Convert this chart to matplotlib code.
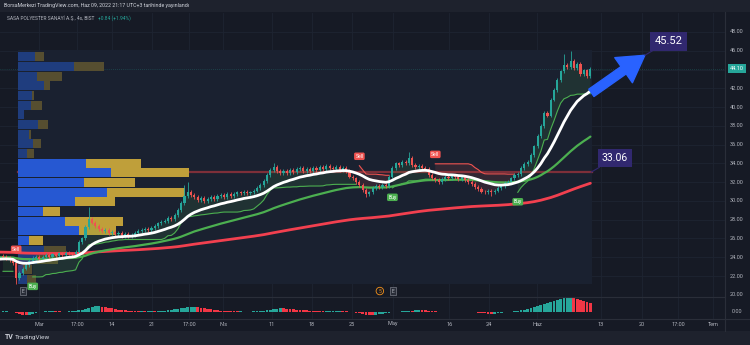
import numpy as np
import matplotlib
matplotlib.use("Agg")
import matplotlib.pyplot as plt
import matplotlib.transforms as mtransforms
from matplotlib.patches import Rectangle

plt.rcParams['font.family'] = ['Roboto', 'DejaVu Sans']

# ---------------- data: SASA 4h bars ----------------
closes = [
    24.0, 23.9, 23.7, 23.4, 21.8, 22.3, 22.8, 23.2, 23.6, 23.9,
    24.0, 23.8, 24.0, 24.2, 24.0, 24.3, 24.1, 24.4, 24.2, 24.5,
    24.4, 24.3, 24.6, 25.6, 26.0, 27.2, 28.1, 27.7, 27.3, 27.0,
    26.8, 26.9, 26.6, 26.7, 26.5, 26.6, 26.3, 26.5, 26.3, 26.4,
    26.6, 26.8, 26.9, 27.0, 26.9, 27.1, 27.3, 27.6, 27.8, 27.9,
    28.2, 28.1, 28.5, 29.0, 29.8, 30.5, 31.0, 30.6, 30.4, 30.1,
    30.3, 30.0, 30.2, 30.4, 30.2, 30.5, 30.6, 30.4, 30.7, 30.5,
    30.7, 30.9, 30.8, 31.0, 30.8, 30.9, 31.1, 31.4, 31.7, 32.1,
    32.8, 33.3, 33.6, 33.2, 33.0, 33.2, 33.0, 33.3, 33.1, 33.4,
    33.5, 33.2, 33.4, 33.2, 33.5, 33.3, 33.6, 33.4, 33.7, 33.5,
    33.4, 33.6, 33.3, 33.5, 33.2, 32.6, 32.4, 32.0, 31.7, 31.2,
    30.7, 30.9, 31.4, 31.6, 31.5, 31.7, 31.6, 32.6, 33.5, 34.0,
    33.8, 34.2, 34.0, 34.6, 33.8, 33.6, 33.7, 33.5, 33.4, 32.8,
    32.4, 32.2, 32.0, 32.3, 32.6, 32.4, 32.7, 32.5, 32.3, 32.5,
    32.2, 32.0, 31.8, 31.5, 31.3, 31.0, 30.9, 31.1, 30.9, 31.1,
    31.4, 31.6, 31.9, 32.0, 32.4, 32.8, 32.9, 33.5, 33.9, 34.2,
    34.9, 35.8, 36.9, 38.0, 39.4, 39.1, 40.8, 41.8, 42.9, 43.8,
    44.5, 44.3, 44.9, 44.2, 44.6, 43.5, 43.9, 43.26, 44.10,
]
first_open = 24.1
wick = 0.2
spike_highs = {26: 29.35, 55: 31.7, 56: 32.0, 82: 34.0, 123: 35.2, 170: 45.7, 172: 46.0}
spike_lows = {4: 21.2, 110: 30.4, 148: 30.5}

# lower pane oscillator
osc = [
    0.6, 0.8, 0.5, -0.4, -1.2, -2.0, -2.8, -3.5, -3.0, -2.2,
    -1.3, -0.5, 0.2, 0.6, 0.9, 1.0, 0.8, 0.6, 0.5, 0.4,
    0.6, 0.9, 1.3, 1.8, 2.4, 3.2, 4.3, 5.4, 6.3, 6.8,
    6.1, 5.3, 4.6, 3.9, 3.3, 2.7, 2.2, 1.8, 1.4, 1.1,
    0.9, 0.7, 0.8, 0.6, 0.7, 0.8, 0.6, 0.9, 1.2, 1.5,
    1.9, 2.3, 2.8, 3.4, 4.1, 4.7, 5.2, 5.5, 5.6, 5.2,
    4.7, 4.1, 3.5, 2.9, 2.4, 1.9, 1.5, 1.2, 1.0, 0.8,
    0.7, 0.6, 0.7, 0.5, 0.4, 0.5, 0.6, 0.8, 1.0, 1.4,
    1.9, 2.5, 3.1, 3.6, 4.0, 3.9, 3.6, 3.3, 3.0, 2.7,
    2.4, 2.1, 1.8, 1.5, 1.2, 1.0, 0.8, 0.6, 0.7, 0.8,
    0.9, 1.0, 1.1, 1.0, 0.8, 0.4, -0.2, -0.9, -1.6, -2.3,
    -2.9, -3.3, -3.5, -3.1, -2.5, -1.9, -1.3, -0.8, -0.3, 0.1,
    0.4, 0.8, 1.1, 1.5, 1.4, 1.8, 2.2, 2.0, 1.7, 1.4,
    1.1, 0.8, 0.5, 0.3, 0.2, 0.3, 0.4, 0.3, 0.4, 0.5,
    0.4, 0.2, 0.0, -0.3, -0.7, -1.1, -1.5, -1.8, -2.0, -1.7,
    -1.2, -0.7, -0.2, 0.2, 0.5, 0.9, 1.4, 2.0, 2.7, 3.5,
    4.3, 5.2, 6.2, 7.3, 8.5, 9.7, 11.0, 12.3, 13.6, 14.7,
    15.6, 16.2, 16.4, 15.5, 14.2, 13.0, 11.8, 10.6, 9.6,
]

# volume profile, rows from the top price bin down
profile_up = [17, 56, 19, 26, 14, 13, 6, 20, 11, 15, 9, 68, 93, 66, 89, 57, 25, 47, 61, 11, 26, 19, 5, 9]
profile_down = [9, 30, 25, 6, 2, 11, 0, 10, 2, 8, 7, 55, 78, 51, 78, 40, 17, 58, 37, 14, 22, 21, 9, 9]
profile_high, profile_low = 45.87, 21.15
value_area_rows = (11, 19)
poc_price = 33.06
target_price = 45.52
change_text = "+0.84 (+1.94%)"

ema_seed = {18: 23.8, 60: 24.0, 200: 24.55}
ce_length, ce_mult = 12, 3.0

time_labels = ['Mar', '17:00', '14', '21', '17:00', 'Nis', '11', '18', '25', 'May',
               '16', '24', 'Haz', '13', '20', '17:00', 'Tem']
time_pos = [10.9, 22.4, 33.0, 45.2, 56.4, 66.7, 81.5, 93.6, 105.8, 118.2,
            135.2, 147.3, 161.8, 181.2, 193.6, 204.5, 215.2]
price_ticks = [22, 24, 26, 28, 30, 32, 34, 36, 38, 40, 42, 46, 48]

# ---------------- derived series ----------------
c = np.array(closes, dtype=float)
n = len(c)
idx = np.arange(n)
o = np.concatenate([[first_open], c[:-1]])
h = np.maximum(o, c) + wick
l = np.minimum(o, c) - wick
for k, v in spike_highs.items():
    h[k] = v
for k, v in spike_lows.items():
    l[k] = v


def ema(vals, span, seed):
    a = 2.0 / (span + 1)
    out, prev = [], seed
    for v in vals:
        prev = prev + a * (v - prev)
        out.append(prev)
    return np.array([seed] + out)


ema_fast = ema(c, 18, ema_seed[18])
ema_mid = ema(c, 60, ema_seed[60])
ema_slow = ema(c, 200, ema_seed[200])
ema_x = np.arange(-1, n)

# Chandelier exit
pc = np.concatenate([[o[0]], c[:-1]])
tr = np.maximum(h - l, np.maximum(abs(h - pc), abs(l - pc)))
atr = np.zeros(n)
atr[0] = tr[0]
for i in range(1, n):
    atr[i] = atr[i - 1] + (tr[i] - atr[i - 1]) / ce_length
long_stop = np.zeros(n)
short_stop = np.zeros(n)
direction = np.zeros(n, dtype=int)
d = 1
for i in range(n):
    lo = max(0, i - ce_length + 1)
    ls = c[lo:i + 1].max() - ce_mult * atr[i]
    ss = c[lo:i + 1].min() + ce_mult * atr[i]
    if i > 0:
        if c[i - 1] > long_stop[i - 1]:
            ls = max(ls, long_stop[i - 1])
        if c[i - 1] < short_stop[i - 1]:
            ss = min(ss, short_stop[i - 1])
        if c[i] > short_stop[i - 1]:
            d = 1
        elif c[i] < long_stop[i - 1]:
            d = -1
    long_stop[i], short_stop[i], direction[i] = ls, ss, d
buy_idx = [i for i in range(1, n) if direction[i] == 1 and direction[i - 1] == -1]
sell_idx = [i for i in range(1, n) if direction[i] == -1 and direction[i - 1] == 1]
mid = (o + h + l + c) / 4

# ---------------- figure ----------------
BG = '#161a25'
PANEL = '#1e222d'
TEXT = '#b2b5be'
GRID = '#1e2431'
UP = '#26a69a'
DN = '#ef5350'

fig = plt.figure(figsize=(7.5, 3.45), dpi=100, facecolor=BG)
W, H = 750.0, 345.0
ax = fig.add_axes([0, 1 - 297 / H, 725 / W, 284 / H])
axs = fig.add_axes([0, 1 - 319 / H, 725 / W, 22 / H], sharex=ax)
for a in (ax, axs):
    a.set_facecolor(BG)
    for s in a.spines.values():
        s.set_visible(False)
    a.tick_params(left=False, right=False, labelleft=False, bottom=False, labelbottom=False)

ax.set_xlim(-0.909, 218.79)
ax.set_ylim(19.764, 50.024)
axs.set_ylim(-7.78, 16.67)

# header and footer bands
fig.patches.append(Rectangle((0, 1 - 12 / H), 1, 12 / H, transform=fig.transFigure,
                             facecolor=PANEL, edgecolor='none', zorder=-5))
fig.patches.append(Rectangle((0, 0), 1, 14 / H, transform=fig.transFigure,
                             facecolor=PANEL, edgecolor='none', zorder=-5))
fig.text(4 / W, 1 - 6 / H, "BorsaMerkezi TradingView.com, Haz 09, 2022 21:17 UTC+3 tarihinde yayınlandı",
         color='#d1d4dc', fontsize=3.8, va='center', ha='left')
t1 = fig.text(7 / W, 1 - 18 / H, "SASA POLYESTER SANAYİ A.Ş., 4s, BIST", color=TEXT,
              fontsize=3.5, va='center', ha='left')
fig.canvas.draw()
ext = t1.get_window_extent()
fig.text((ext.x1 + 4) / W, 1 - 18 / H, change_text, color=UP, fontsize=3.5, va='center', ha='left')
fig.text(5 / W, 8 / H, "TV", color='#d1d4dc', fontsize=5, fontweight='bold', va='center', ha='left')
fig.text(15 / W, 8 / H, "TradingView", color='#d1d4dc', fontsize=4.6, va='center', ha='left')

# grid
for p in price_ticks + [44]:
    ax.axhline(p, color=GRID, lw=0.6, zorder=0)
for t in time_pos:
    ax.axvline(t, color=GRID, lw=0.6, zorder=0)
    axs.axvline(t, color=GRID, lw=0.6, zorder=0)

# volume profile range
edges = np.linspace(profile_high, profile_low, len(profile_up) + 1)
prof_left = 4.55
ax.add_patch(Rectangle((prof_left, profile_low), n - 0.5 - prof_left, profile_high + 0.2 - profile_low,
                       facecolor='#1a2130', edgecolor='none', zorder=0.5))
ax.plot([prof_left, n - 0.5], [poc_price, poc_price], color='#7d2f39', lw=1.6, zorder=1)
tot = np.array(profile_up) + np.array(profile_down)
scale = 51.8 / tot.max()
for k in range(len(profile_up)):
    inside = value_area_rows[0] <= k <= value_area_rows[1]
    cu = '#2658d2' if inside else '#1f3d7e'
    cd = '#bf9f3a' if inside else '#564e30'
    y0 = edges[k + 1] + 0.05
    hh = edges[k] - edges[k + 1] - 0.1
    wu = profile_up[k] * scale
    wd = profile_down[k] * scale
    ax.add_patch(Rectangle((prof_left, y0), wu, hh, facecolor=cu, edgecolor='none', zorder=2))
    if wd > 0:
        ax.add_patch(Rectangle((prof_left + wu, y0), wd, hh, facecolor=cd, edgecolor='none', zorder=2))

# chandelier exit lines + fills
ls_plot = np.where(direction == 1, long_stop, np.nan)
ss_plot = np.where(direction == -1, short_stop, np.nan)
ax.fill_between(idx, mid, ls_plot, where=direction == 1, color='#4caf50', alpha=0.12, lw=0, zorder=3)
ax.fill_between(idx, mid, ss_plot, where=direction == -1, color='#ef5350', alpha=0.12, lw=0, zorder=3)
ax.plot(idx, ls_plot, color='#4caf50', lw=0.8, zorder=4)
ax.plot(idx, ss_plot, color='#ef5350', lw=0.8, zorder=4)

# moving averages
ax.plot(ema_x, ema_slow, color='#f2404f', lw=2.0, zorder=5, solid_capstyle='round')
ax.plot(ema_x, ema_mid, color='#4caf50', lw=1.6, zorder=5, solid_capstyle='round')

# candles
cols = np.where(c >= o, UP, DN)
ax.vlines(idx, l, h, colors=cols, lw=0.6, zorder=6)
body_lo = np.minimum(o, c)
body_h = np.maximum(abs(c - o), 0.05)
ax.bar(idx, body_h, bottom=body_lo, width=0.62, color=cols, lw=0, zorder=6)

ax.plot(ema_x, ema_fast, color='#ffffff', lw=2.0, zorder=7, solid_capstyle='round')

# buy / sell labels
for i in sell_idx:
    ax.annotate('Sell', xy=(i, short_stop[i]), xytext=(0, 5), textcoords='offset points',
                ha='center', va='bottom', color='white', fontsize=3.6,
                bbox=dict(boxstyle='round,pad=0.25,rounding_size=0.3', fc=DN, ec='none'), zorder=9)
for i in buy_idx:
    ax.annotate('Buy', xy=(i, long_stop[i]), xytext=(0, -5), textcoords='offset points',
                ha='center', va='top', color='white', fontsize=3.6,
                bbox=dict(boxstyle='round,pad=0.25,rounding_size=0.3', fc='#4caf50', ec='none'), zorder=9)

# last price line
ax.axhline(c[-1], color=UP, lw=0.5, ls=(0, (1, 2)), alpha=0.45, zorder=1)

# callouts and arrow
ax.annotate('', xy=(194.5, target_price), xytext=(178.3, ema_fast[-1] - 0.2),
            arrowprops=dict(arrowstyle='simple,head_length=1.1,head_width=1.3,tail_width=0.38',
                            fc='#2962ff', ec='#2962ff', mutation_scale=17, shrinkA=0, shrinkB=0),
            zorder=10)
for price, xb, fs in ((target_price, 194.5, 8.0), (poc_price, n - 0.8, 7.5)):
    ax.annotate(f"{price:.2f}", xy=(xb, price), xytext=(17, 10), textcoords='offset points',
                ha='center', va='center', color='white', fontsize=fs,
                bbox=dict(boxstyle='square,pad=0.38', fc='#31286f', ec='none'),
                arrowprops=dict(arrowstyle='-', color='#31286f', lw=0.8, shrinkA=0, shrinkB=0),
                zorder=11)

# event markers along the bottom of the price pane
bx = mtransforms.blended_transform_factory(ax.transData, ax.transAxes)
for xb in (6.1, 118.2):
    ax.text(xb, 0.021, 'E', transform=bx, ha='center', va='center', color=TEXT, fontsize=3.6,
            bbox=dict(boxstyle='square,pad=0.3', fc='#2a2e39', ec='#787b86', lw=0.5), zorder=9)
ax.text(114.2, 0.021, '5', transform=bx, ha='center', va='center', color='#f7931a', fontsize=3.6,
        bbox=dict(boxstyle='circle,pad=0.25', fc='none', ec='#f7931a', lw=0.6), zorder=9)

# right price scale
by = mtransforms.blended_transform_factory(ax.transAxes, ax.transData)
for p in price_ticks + [20]:
    ax.text(1 + 12 / 725, p, f"{p:.2f}", transform=by, ha='center', va='center',
            color=TEXT, fontsize=4.0, clip_on=False)
ax.text(1 + 12 / 725, c[-1], f"{c[-1]:.2f}", transform=by, ha='center', va='center',
        color='white', fontsize=4.0, clip_on=False,
        bbox=dict(boxstyle='square,pad=0.3', fc=UP, ec='none'))
bys = mtransforms.blended_transform_factory(axs.transAxes, axs.transData)
axs.text(1 + 12 / 725, 0, "0.00", transform=bys, ha='center', va='center',
         color=TEXT, fontsize=4.0, clip_on=False)

# oscillator pane
ocol = [UP if i == 0 or osc[i] >= osc[i - 1] else '#f23645' for i in range(n)]
axs.bar(idx, osc, width=0.85, color=ocol, lw=0, zorder=3)

# separators
fig.add_artist(plt.Line2D([725 / W, 725 / W], [14 / H, 1 - 12 / H], color='#2a2e39', lw=0.8))
fig.add_artist(plt.Line2D([0, 725 / W], [1 - 297 / H, 1 - 297 / H], color='#2a2e39', lw=0.8))
fig.add_artist(plt.Line2D([0, 1], [1 - 319 / H, 1 - 319 / H], color='#2a2e39', lw=0.8))

# time axis
bt = mtransforms.blended_transform_factory(axs.transData, fig.transFigure)
for t, lab in zip(time_pos, time_labels):
    axs.text(t, 1 - 324 / H, lab, transform=bt, ha='center', va='center', color=TEXT,
             fontsize=4.0, clip_on=False)

fig.savefig('out.png', dpi=100, facecolor=BG)
